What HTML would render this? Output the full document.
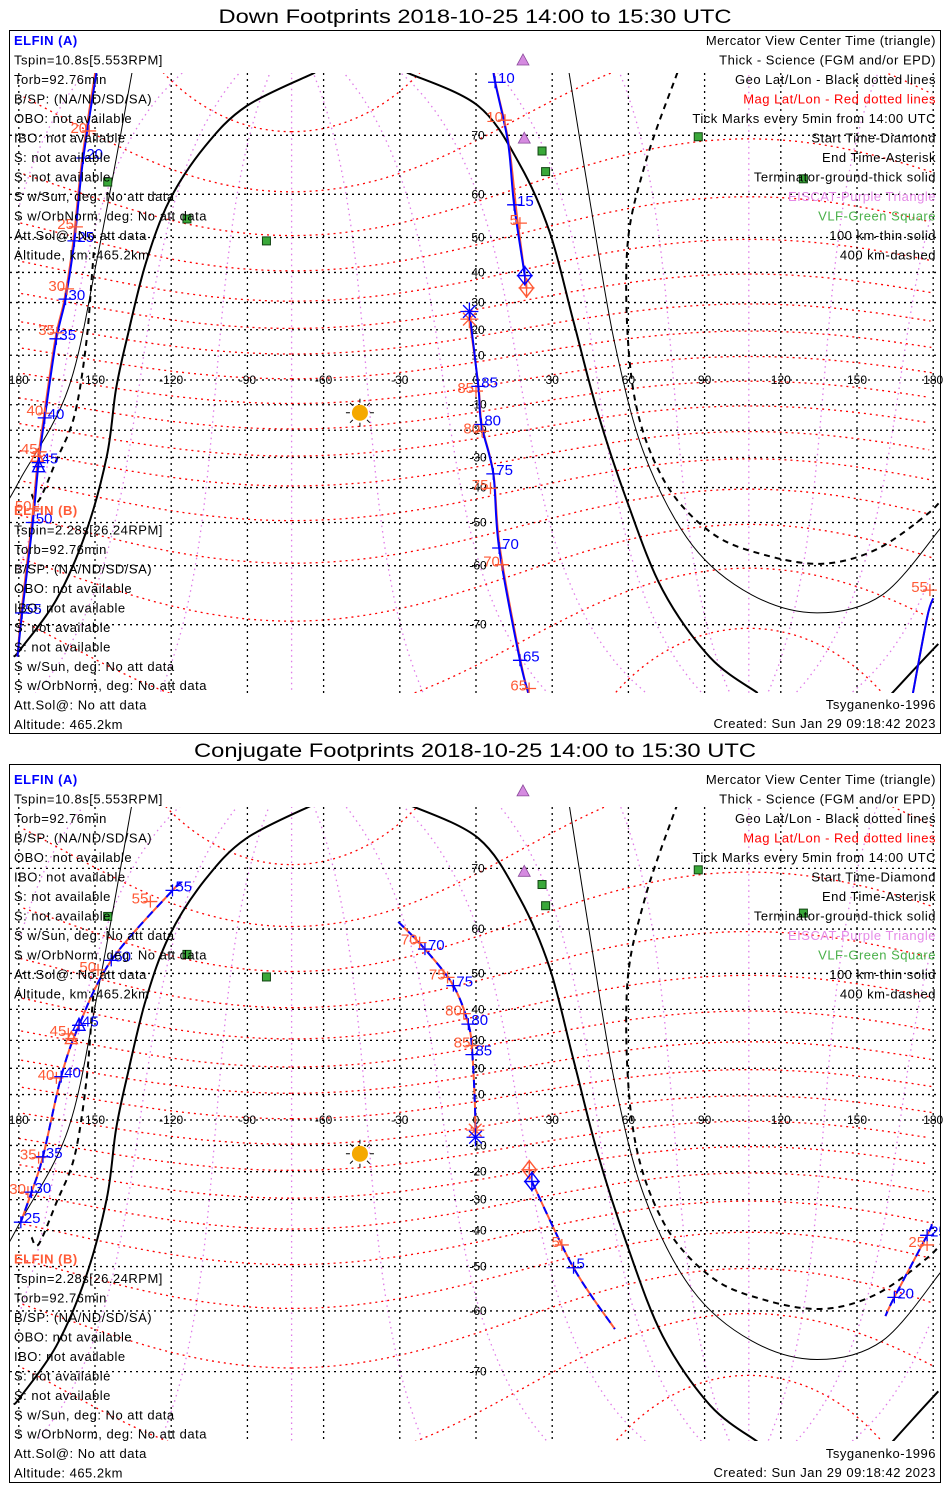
<!DOCTYPE html>
<html><head><meta charset="utf-8"><style>
html,body{margin:0;padding:0;background:#fff;overflow:hidden;width:950px;height:1500px;}
svg{display:block;font-family:"Liberation Sans",sans-serif;}
.t{font-size:13px;letter-spacing:.5px;}
.ax{font-size:12px;}
.tk{font-size:15px;}
</style></head><body>
<svg id="chart" width="950" height="1500" viewBox="0 0 950 1500" xmlns="http://www.w3.org/2000/svg">
<rect x="0" y="0" width="950" height="1500" fill="#fff"/>
</svg>
<script>
// ---- axis tick data ----
const lonTicks=[-180,-150,-120,-90,-60,-30,0,30,60,90,120,150,180];
const lonTickLabels=['180','150','-120','-90','-60','-30','0','30','60','90','120','150','180'];
const latTicks=[-70,-60,-50,-40,-30,-20,-10,0,10,20,30,40,50,60,70];
const latTickLabels=['-70','-60','-50','-40','-30','-20','-10','','10','20','30','40','50','60','70'];
// ---- terminator / altitude curves (shared) ----
const termALon=[-63.4,-90.3,-106.7,-120.7,-130,-137.1,-141.7,-145.3,-153.5,-165.2,-179.2,-182];
const termALat=[77.1,73.7,68.4,58.7,42.8,18,-3.5,-29.4,-52.4,-66.2,-73.1,-74];
const termA2Lon=[182,172,160];
const termA2Lat=[-72.5,-75.5,-78.5];
const termBLon=[-27.2,0.9,17.3,29,38.4,47.7,59.4,73.5,92.2,110.9];
const termBLat=[77.1,73.7,65.5,51.4,23.1,-12.4,-44,-64.6,-74.1,-77.6];
const thinRLon=[36,45.4,54.7,66.5,85.2,108.5,134.3,160,183];
const thinRLat=[78,56.8,14.4,-29.4,-55.6,-65.4,-68.3,-65.4,-51.4];
const thinLLon=[-134.7,-148.8,-160.5,-179.2,-185];
const thinLLat=[78,45.4,-3.5,-37,-45];
const dashRLon=[79.3,66.5,59.4,61.8,73.5,92.2,113.3,136.6,157.7,177.6,185];
const dashRLat=[77.1,65.5,45.4,-3.5,-37,-52.4,-57.7,-59.6,-56.5,-47.8,-42];
const dashLLon=[-175,-172.2,-165.2,-158.1,-153.5,-151.1,-150.5];
const dashLLat=[-42,-44,-31,-14.4,14.3,40.2,46];
// ---- sites ----
const eiscatLon=[18.5,19];
const eiscatLat=[78.2,69.6];
const vlfLon=[-145,-113.8,-82.5,26,27.4,87.5,128.9];
const vlfLat=[62.4,54.6,49.1,67.7,64.3,69.8,63];
const sunLon=-45.7, sunLat=-13.2;
// ---- Down footprints, ELFIN A ----
const downA1Lon=[19.2,15,12.6,7.5,6.8,6];
const downA1Lat=[39,57.8,69,76.2,77.5,79];
const downA2Lon=[-148,-154.6,-158.1,-161.6,-165.2,-169.8,-172.2,-174.5,-178.7,-180.5];
const downA2Lat=[79,66.6,49.1,31.2,16.5,-15.2,-31.8,-50,-68.3,-74];
const downA3Lon=[180,177.6,171.7];
const downA3Lat=[-66,-69,-78];
const downA4Lon=[21.2,17.3,9.1,6.8,2.1,0.9,-2.6];
const downA4Lat=[-78,-74.4,-56.2,-35.6,-17.8,-2.6,26.8];
const downATickLabels=['10','15','20','25','30','35','40','45','50','55','65','70','75','80','85'];
const downATickLon=[7.5,15,-154.6,-158.1,-161.6,-165.2,-169.8,-172.2,-174.5,-178.7,17.3,9.1,6.8,2.1,0.9];
const downATickLat=[76.2,57.8,66.6,49.1,31.2,16.5,-15.2,-31.8,-50,-68.3,-74.4,-56.2,-35.6,-17.8,-2.6];
// ---- Down footprints, ELFIN B ----
const downB1Lon=[19.9,16.2,12.8,7.8,6.9,6];
const downB1Lat=[35,55,69,76,77.5,79];
const downB2Lon=[-148.5,-155,-158.5,-162,-165.6,-170.2,-172.6,-174.9,-179,-180.5];
const downB2Lat=[79,66.6,49.1,31.2,16.5,-15.2,-31.8,-50,-68.3,-74];
const downB4Lon=[21,17.5,9.4,6.9,2.3,1,-2.6];
const downB4Lat=[-78,-74.4,-56.2,-35.6,-17.8,-2.6,24];
const downBTickLabels=['5','10','20','25','30','35','40','45','50','55','65','70','75','80','85'];
const downBTickLon=[17.3,11.4,-152.3,-157.5,-161,-165,-169.6,-171.8,-174.2,178.7,20.9,10.2,5.7,2.4,0];
const downBTickLat=[53.6,72,70.6,52.7,34.7,18.8,-13.4,-28,-46.3,-64.6,-77.2,-59.8,-40.2,-20.4,-4.5];
// ---- Conjugate footprints, ELFIN A ----
const conjA1Lon=[-116,-119.5,-143.6,-156.3,-163.3,-170.5,-175,-179.2];
const conjA1Lat=[67.8,66.8,53.2,35,16.9,-14.4,-27.4,-37.4];
const conjA2Lon=[-30.6,-20.1,-8.9,-3,-1.4,-0.4,-0.2];
const conjA2Lat=[61.4,55.8,46.8,35.4,25,5,-6.8];
const conjA3Lon=[22,38.4,54.7];
const conjA3Lat=[-23.6,-50.3,-63.4];
const conjA4Lon=[179.5,177.6,164.7,161.2];
const conjA4Lat=[-38,-41.4,-57.2,-61];
const conjATickLabels=['55','50','45','40','35','30','25','70','75','80','85','5','25','20'];
const conjATickLon=[-119.5,-143.6,-156.3,-163.3,-170.5,-175,-179.2,-20.1,-8.9,-3,-1.4,38.4,177.6,164.7];
const conjATickLat=[66.8,53.2,35,16.9,-14.4,-27.4,-37.4,55.8,46.8,35.4,25,-50.3,-41.4,-57.2];
const conjBTickLabels=['55','50','45','40','35','30','70','75','80','85','5','25'];
const conjBTickLon=[-128.2,-148.8,-160.5,-165.2,-172.2,-176.4,-22.2,-11.2,-4.8,-1.4,33.8,177.6];
const conjBTickLat=[65,50.9,32.2,16.4,-14.7,-27.4,57.2,49,38.7,28.2,-44.2,-44.2];

const NS='http://www.w3.org/2000/svg';
const svg=document.getElementById('chart');
const D=Math.PI/180;
function mk(tag,attrs,parent){const e=document.createElementNS(NS,tag);for(const k in attrs)e.setAttribute(k,attrs[k]);(parent||svg).appendChild(e);return e;}
function xOf(lon){return 476+lon*2.54;}
function yOf(p,lat){return p.eq-p.R*Math.log(Math.tan(Math.PI/4+lat*D/2));}
function smoothSub(pts){
 if(pts.length<3){return pts.map((q,i)=>(i?'L':'M')+q[0].toFixed(1)+' '+q[1].toFixed(1)).join('');}
 let d='M'+pts[0][0].toFixed(1)+' '+pts[0][1].toFixed(1);
 for(let i=0;i<pts.length-1;i++){const p0=pts[Math.max(0,i-1)],p1=pts[i],p2=pts[i+1],p3=pts[Math.min(pts.length-1,i+2)];
  const c1=[p1[0]+(p2[0]-p0[0])/6,p1[1]+(p2[1]-p0[1])/6],c2=[p2[0]-(p3[0]-p1[0])/6,p2[1]-(p3[1]-p1[1])/6];
  d+=`C${c1[0].toFixed(1)} ${c1[1].toFixed(1)} ${c2[0].toFixed(1)} ${c2[1].toFixed(1)} ${p2[0].toFixed(1)} ${p2[1].toFixed(1)}`;}
 return d;}
function path(p,lons,lats,smooth){const subs=[];let cur=[];let px=null;for(let i=0;i<lons.length;i++){const x=xOf(lons[i]),y=yOf(p,lats[i]);if(px!==null&&Math.abs(x-px)>300){subs.push(cur);cur=[];}cur.push([x,y]);px=x;}subs.push(cur);
 return subs.map(s=>smooth?smoothSub(s):s.map((q,i)=>(i?'L':'M')+q[0].toFixed(1)+' '+q[1].toFixed(1)).join('')).join('');}
function magToGeo(mlat,mlon){const PL=80.5*D,PO=-72.6*D;const zm=[Math.cos(PL)*Math.cos(PO),Math.cos(PL)*Math.sin(PO),Math.sin(PL)];let ym=[-zm[1],zm[0],0];const n=Math.hypot(ym[0],ym[1]);ym=[ym[0]/n,ym[1]/n,0];const xm=[ym[1]*zm[2]-ym[2]*zm[1],ym[2]*zm[0]-ym[0]*zm[2],ym[0]*zm[1]-ym[1]*zm[0]];const a=Math.cos(mlat*D)*Math.cos(mlon*D),b=Math.cos(mlat*D)*Math.sin(mlon*D),c=Math.sin(mlat*D);const v=[0,1,2].map(i=>a*xm[i]+b*ym[i]+c*zm[i]);return [Math.atan2(v[1],v[0])/D,Math.asin(v[2])/D];}
function txt(s,x,y,cls,fill,anchor,parent){const t=mk('text',{x:x,y:y,class:cls||'t'},parent);t.style.fill=fill||'#000';if(anchor)t.setAttribute('text-anchor',anchor);t.textContent=s;return t;}

const panels=[
 {key:'down',title:'Down Footprints 2018-10-25 14:00 to 15:30 UTC',tw:513,titleY:23,top:30,bot:733,eq:380,R:141,mt:73,mb:693,textOff:0,botText:0,bStart:510},
 {key:'conj',title:'Conjugate Footprints 2018-10-25 14:00 to 15:30 UTC',tw:562,titleY:757,top:764,bot:1482,eq:1120,R:145,mt:807,mb:1441,textOff:739,botText:749,bStart:1258.5}
];
const leftA=['Tspin=10.8s[5.553RPM]','Torb=92.76min','B/SP: (NA/ND/SD/SA)','OBO: not available','IBO: not available','S: not available','S: not available','S w/Sun, deg: No att data','S w/OrbNorm, deg: No att data','Att.Sol@: No att data','Altitude, km: 465.2km'];
const leftB=['Tspin=2.28s[26.24RPM]','Torb=92.76min','B/SP: (NA/ND/SD/SA)','OBO: not available','IBO: not available','S: not available','S: not available','S w/Sun, deg: No att data','S w/OrbNorm, deg: No att data','Att.Sol@: No att data','Altitude: 465.2km'];
const rightL=[['Mercator View Center Time (triangle)','#000'],['Thick - Science (FGM and/or EPD)','#000'],['Geo Lat/Lon - Black dotted lines','#000'],['Mag Lat/Lon - Red dotted lines','#ff0000'],['Tick Marks every 5min from 14:00 UTC','#000'],['Start Time-Diamond','#000'],['End Time-Asterisk','#000'],['Terminator-ground-thick solid','#000'],['EISCAT-Purple Triangle','#e58ae8'],['VLF-Green Square','#49b049'],['100 km-thin solid','#000'],['400 km-dashed','#000']];

function tick(g,p,lon,lat,label,color,side){
 const x=xOf(lon),y=yOf(p,lat);
 const t=mk('path',{d:`M${x-7} ${y}H${x+7}M${x} ${y-6}V${y+6}`,stroke:color,'stroke-width':1.3,fill:'none'},g);
 
 
 const l=txt(label,side>0?x+3:x-2,y+(side>0?1:2),'tk',color,side>0?'start':'end',g);
 
 
}
function diamond(g,p,lon,lat,color){const x=xOf(lon),y=yOf(p,lat);const e=mk('path',{d:`M${x} ${y-9}L${x+7} ${y}L${x} ${y+9}L${x-7} ${y}ZM${x-8} ${y}H${x+8}M${x} ${y-10}V${y+10}`,stroke:color,'stroke-width':1.4,fill:'none'},g);}
function asterisk(g,p,lon,lat,color){const x=xOf(lon),y=yOf(p,lat);let d='';for(let a=0;a<4;a++){const c=Math.cos(a*Math.PI/4)*9,s=Math.sin(a*Math.PI/4)*9;d+=`M${x-c} ${y-s}L${x+c} ${y+s}`;}const e=mk('path',{d:d,stroke:color,'stroke-width':1.3,fill:'none'},g);}
function triangle(g,p,lon,lat,color){const x=xOf(lon),y=yOf(p,lat);const e=mk('path',{d:`M${x} ${y-7}L${x+6} ${y+5}L${x-6} ${y+5}ZM${x-6} ${y}H${x+6}`,stroke:color,'stroke-width':1.4,fill:'none'},g);}

panels.forEach((p,pi)=>{
 const G=mk('g',{});
 
 
 const ti=txt(p.title,475,p.titleY,'t','#000','middle',G);
 ti.style.fontSize='19px';ti.style.letterSpacing='0px';ti.setAttribute('textLength',p.tw);ti.setAttribute('lengthAdjust','spacingAndGlyphs');
 
 
 const fr=mk('rect',{x:9.5,y:p.top+0.5,width:931,height:p.bot-p.top,fill:'none',stroke:'#000','stroke-width':1},G);
 
 
 const cid='clip'+pi;
 const cp=mk('clipPath',{id:cid},G);mk('rect',{x:10,y:p.mt,width:930,height:p.mb-p.mt},cp);
 const M=mk('g',{'clip-path':`url(#${cid})`},G);
 
 
 for(let ml=0;ml<360;ml+=30){const lo=[],la=[];for(let a=-88;a<=88;a+=2){const g=magToGeo(a,ml);lo.push(g[0]);la.push(g[1]);}
  const e=mk('path',{d:path(p,lo,la,false),stroke:'#e07ae8','stroke-width':1.3,'stroke-dasharray':'1.5 4',fill:'none'},M);
  }
 for(let ma=-80;ma<=80;ma+=10){const lo=[],la=[];for(let m=0;m<=360;m+=2){const g=magToGeo(ma,m);lo.push(g[0]);la.push(g[1]);}
  const e=mk('path',{d:path(p,lo,la,false),stroke:'#ff0000','stroke-width':1.3,'stroke-dasharray':'2 4',fill:'none'},M);
  }
 latTicks.forEach(l=>{const y=yOf(p,l);const e=mk('line',{x1:10,x2:940,y1:y,y2:y,stroke:'#000','stroke-width':1.3,'stroke-dasharray':'2 4'},M);});
 lonTicks.forEach(l=>{const x=xOf(l);const e=mk('line',{x1:x,x2:x,y1:p.mt,y2:p.mb,stroke:'#000','stroke-width':1.3,'stroke-dasharray':'2 4'},M);});
 [[termALon,termALat,2,''],[termA2Lon,termA2Lat,2,''],[termBLon,termBLat,2,''],[thinRLon,thinRLat,1,''],[thinLLon,thinLLat,1,''],[dashRLon,dashRLat,2,'6 5'],[dashLLon,dashLLat,2,'6 5']].forEach((c,i)=>{
  const e=mk('path',{d:path(p,c[0],c[1],true),stroke:'#000','stroke-width':c[2],fill:'none'},M);if(c[3])e.setAttribute('stroke-dasharray',c[3]);
  });
 vlfLon.forEach((lo,i)=>{const x=xOf(lo),y=yOf(p,vlfLat[i]);const e=mk('rect',{x:x-4,y:y-4,width:8,height:8,fill:'#3aa83a',stroke:'#114411','stroke-width':1},M);});
 {const x=xOf(sunLon),y=yOf(p,sunLat);const sg=mk('g',{},M);let d='';for(let a=0;a<8;a++){const c=Math.cos(a*Math.PI/4),s=Math.sin(a*Math.PI/4);d+=`M${x+c*10} ${y+s*10}L${x+c*14} ${y+s*14}`;}mk('path',{d:d,stroke:'#000','stroke-width':1},sg);mk('circle',{cx:x,cy:y,r:8,fill:'#f5a800'},sg);}
 lonTicks.forEach((l,i)=>{const e=txt(lonTickLabels[i],xOf(l),p.eq+4,'ax','#000','middle',G);});
 latTicks.forEach((l,i)=>{if(!latTickLabels[i])return;const e=txt(latTickLabels[i],478,yOf(p,l)+4,'ax','#000','middle',G);});
 const T=mk('g',{'clip-path':`url(#${cid})`},G);
 
 
 let segsA,segsB,ticksA,ticksB,mk2;
 if(p.key==='down'){
  segsA=[[downA1Lon,downA1Lat],[downA2Lon,downA2Lat],[downA3Lon,downA3Lat],[downA4Lon,downA4Lat]];
  segsB=[[downB1Lon,downB1Lat],[downB2Lon,downB2Lat],[downA3Lon,downA3Lat],[downB4Lon,downB4Lat]];
  ticksA=[downATickLabels,downATickLon,downATickLat];ticksB=[downBTickLabels,downBTickLon,downBTickLat];
  mk2={dA:[19.2,39],dB:[19.9,35],aA:[-2.6,26.8],aB:[-2.6,24],tA:[-172.2,-33.2],tB:[-172.8,-29.6]};
 }else{
  segsA=[[conjA1Lon,conjA1Lat],[conjA2Lon,conjA2Lat],[conjA3Lon,conjA3Lat],[conjA4Lon,conjA4Lat]];
  segsB=segsA;
  ticksA=[conjATickLabels,conjATickLon,conjATickLat];ticksB=[conjBTickLabels,conjBTickLon,conjBTickLat];
  mk2={dA:[22,-23.6],dB:[21,-19.3],aA:[-0.2,-6.8],aB:[-0.3,-4],tA:[-156.3,35],tB:[-159.3,30.6]};
 }
 segsB.forEach(s=>{const e=mk('path',{d:path(p,s[0],s[1],true),stroke:'#ff5a36','stroke-width':2,fill:'none'},T);});
 segsA.forEach(s=>{const e=mk('path',{d:path(p,s[0],s[1],true),stroke:'#0000ff','stroke-width':2,fill:'none'},T);if(p.key==='conj')e.setAttribute('stroke-dasharray','8 6');});
 ticksB[0].forEach((lab,i)=>tick(T,p,ticksB[1][i],ticksB[2][i],lab,'#ff5a36',-1));
 ticksA[0].forEach((lab,i)=>tick(T,p,ticksA[1][i],ticksA[2][i],lab,'#0000ff',1));
 diamond(T,p,mk2.dB[0],mk2.dB[1],'#ff5a36');diamond(T,p,mk2.dA[0],mk2.dA[1],'#0000ff');
 asterisk(T,p,mk2.aB[0],mk2.aB[1],'#ff5a36');asterisk(T,p,mk2.aA[0],mk2.aA[1],'#0000ff');
 triangle(T,p,mk2.tB[0],mk2.tB[1],'#ff5a36');triangle(T,p,mk2.tA[0],mk2.tA[1],'#0000ff');
 eiscatLon.forEach((lo,i)=>{const x=xOf(lo),y=yOf(p,eiscatLat[i]);const e=mk('path',{d:`M${x} ${y-6}L${x+6} ${y+5}L${x-6} ${y+5}Z`,fill:'#d58ae0',stroke:'#8a4a9a','stroke-width':0.8},G);});
 const a0=txt('ELFIN (A)',14,45+p.textOff,'t','#0000ff','start',G);a0.style.fontWeight='bold';
 leftA.forEach((s,i)=>{const e=txt(s,14,45+p.textOff+19.5*(i+1),'t','#000','start',G);});
 const b0=txt('ELFIN (B)',14,p.bStart+5,'t','#ff5a36','start',G);b0.style.fontWeight='bold';
 leftB.forEach((s,i)=>{const e=txt(s,14,p.bStart+5+19.47*(i+1),'t','#000','start',G);});
 rightL.forEach((r,i)=>{const e=txt(r[0],936,45+p.textOff+19.5*i,'t',r[1],'end',G);});
 const ts=txt('Tsyganenko-1996',936,709+p.botText,'t','#000','end',G);
 const cr=txt('Created: Sun Jan 29 09:18:42 2023',936,728+p.botText,'t','#000','end',G);
});
</script>
</body></html>
